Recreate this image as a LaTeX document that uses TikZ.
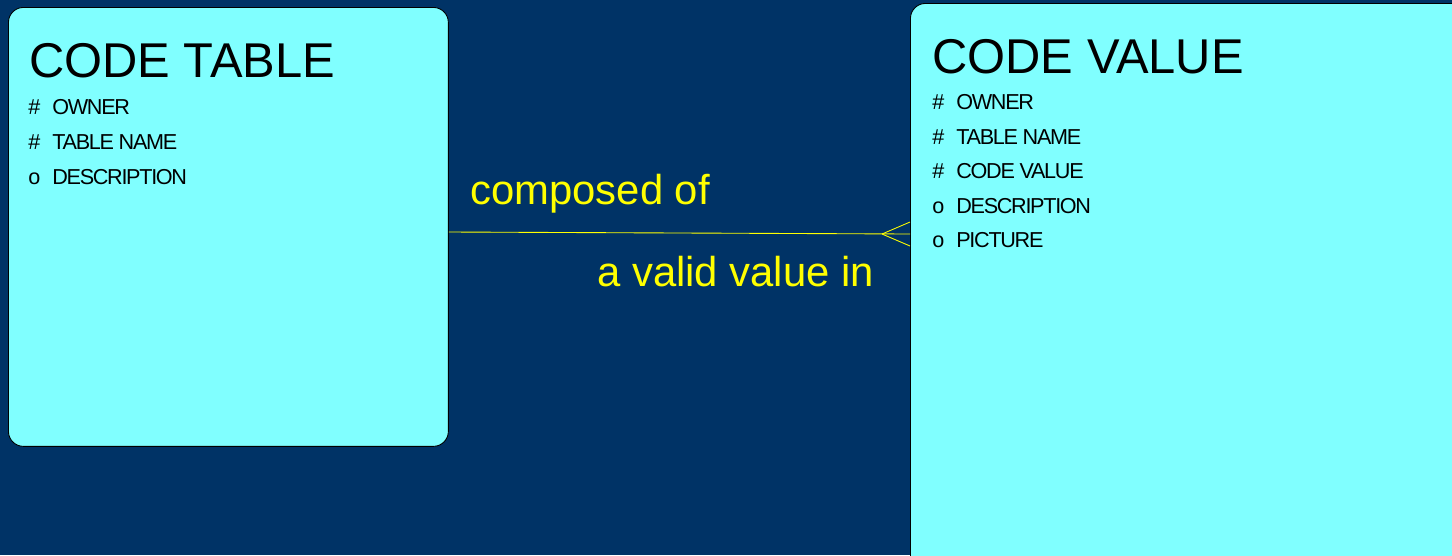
\documentclass[tikz,border=0pt]{standalone}
\usepackage{fontspec}
\setmainfont{Liberation Sans}
\usetikzlibrary{positioning}
\definecolor{bgblue}{RGB}{0,51,102}
\definecolor{boxcyan}{RGB}{128,255,255}
\definecolor{relyellow}{RGB}{255,255,0}
\begin{document}
\begin{tikzpicture}[x=0.02cm, y=-0.02cm]
	\tikzset{entity/.style = {rectangle, draw=black, fill=boxcyan, line width=0.5pt, rounded corners=0.3cm, anchor=north west, inner sep=0pt},
		title/.style = {anchor=base west, inner sep=0pt, font=\fontsize{27.8}{30}\selectfont},
		attr/.style = {anchor=base west, inner sep=0pt, font=\fontsize{12.3}{14}\selectfont\addfontfeature{LetterSpace=-6}},
		rel/.style = {draw=relyellow, line width=0.5pt},
		rellabel/.style = {anchor=base west, inner sep=0pt, text=relyellow, font=\fontsize{23.8}{26}\selectfont}}
	\useasboundingbox (0,0) rectangle (1452,555);
	\clip (0,0) rectangle (1452,555);
	\fill [bgblue] (0,0) rectangle (1452,555);
	\node [entity, minimum width=8.8cm, minimum height=8.78cm] (ct) at (8,7) {};
	\node [entity, minimum width=11.4cm, minimum height=11.6cm] (cv) at (910,3) {};
	\node [title] (cttitle) at (29,77) {CODE TABLE};
	\node [title] (cvtitle) at (932,73) {CODE VALUE};
	\foreach \k/\a [count=\i] in {\#/OWNER, \#/TABLE NAME, o/DESCRIPTION}
		\node [attr] (ctattr\i) at (28,79+35*\i) {\makebox[0.48cm][l]{\k}\a};
	\foreach \k/\a [count=\i] in {\#/OWNER, \#/TABLE NAME, \#/CODE VALUE, o/DESCRIPTION, o/PICTURE}
		\node [attr] (cvattr\i) at (932,75.5+34.4*\i) {\makebox[0.48cm][l]{\k}\a};
	\coordinate (foot) at (882,234);
	\draw [rel] (ct.east |- 0,232) -- (cv.west |- foot);
	\draw [rel] (foot) -- (cv.west |- 0,222);
	\draw [rel] (foot) -- (cv.west |- 0,246);
	\node [rellabel] (composed) at (470,204) {composed of};
	\node [rellabel] (validin)  at (597,286) {a valid value in};
\end{tikzpicture}
\end{document}
